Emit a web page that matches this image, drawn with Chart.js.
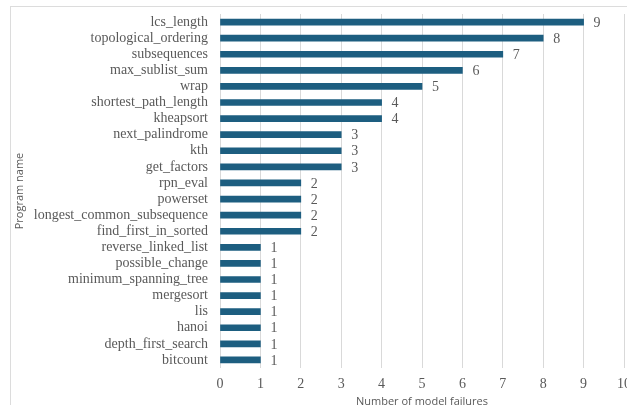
<!DOCTYPE html>
<html lang="en">
<head>
<meta charset="UTF-8">
<title>Model failures per program</title>
<script src="https://cdn.jsdelivr.net/npm/chart.js"></script>
<style>
  html, body { margin: 0; padding: 0; background: #fff; overflow: hidden; }
  #frame { position: absolute; left: 10px; top: 6px; width: 700px; height: 500px; border: 1px solid #dcdcdc; }
  #wrap { position: absolute; left: 0; top: 0; width: 640px; height: 412px; }
</style>
</head>
<body>
<div id="frame"></div>
<div id="wrap"><canvas id="chart"></canvas></div>
<script>
const programs = [
  "lcs_length", "topological_ordering", "subsequences", "max_sublist_sum", "wrap",
  "shortest_path_length", "kheapsort", "next_palindrome", "kth", "get_factors",
  "rpn_eval", "powerset", "longest_common_subsequence", "find_first_in_sorted",
  "reverse_linked_list", "possible_change", "minimum_spanning_tree", "mergesort",
  "lis", "hanoi", "depth_first_search", "bitcount"
];
const failures = [9, 8, 7, 6, 5, 4, 4, 3, 3, 3, 2, 2, 2, 2, 1, 1, 1, 1, 1, 1, 1, 1];

const textColor = "#595959";
const serif = "'Liberation Serif', 'Times New Roman', serif";

// draws the value next to each bar
const valueLabels = {
  id: "valueLabels",
  afterDatasetsDraw(chart) {
    const ctx = chart.ctx;
    const meta = chart.getDatasetMeta(0);
    ctx.save();
    ctx.font = "14px " + serif;
    ctx.fillStyle = textColor;
    ctx.textAlign = "left";
    ctx.textBaseline = "middle";
    meta.data.forEach((bar, i) => {
      ctx.fillText(failures[i], bar.x + 10, bar.y + 1);
    });
    ctx.restore();
  }
};

new Chart(document.getElementById("chart"), {
  type: "bar",
  data: {
    labels: programs,
    datasets: [{
      data: failures,
      backgroundColor: "#1d5e80",
      barThickness: 6
    }]
  },
  options: {
    indexAxis: "y",
    responsive: true,
    maintainAspectRatio: false,
    animation: false,
    layout: { padding: { top: 14, right: 16, bottom: 0, left: 0 } },
    plugins: { legend: { display: false }, tooltip: { enabled: false } },
    scales: {
      x: {
        min: 0, max: 10,
        ticks: { stepSize: 1, color: textColor, font: { family: serif, size: 14 }, padding: 8 },
        grid: { color: "#d9d9d9", drawTicks: false },
        border: { display: false },
        title: {
          display: true, text: "Number of model failures", color: textColor,
          font: { family: "'Open Sans', sans-serif", size: 11 }, padding: { top: 2, bottom: 4 }
        },
        afterFit(scale) { scale.height = 412 - 368; }
      },
      y: {
        ticks: { color: textColor, font: { family: serif, size: 14 }, padding: 12, autoSkip: false },
        grid: { display: false, drawTicks: false },
        border: { display: false },
        title: {
          display: true, text: "Program name", color: textColor,
          font: { family: "'Open Sans', sans-serif", size: 11 }, padding: { top: 13, bottom: 0 }
        },
        afterFit(scale) {
          scale.width = 220;
          scale.paddingTop = 0;
          scale.paddingBottom = 0;
        }
      }
    }
  },
  plugins: [valueLabels]
});
</script>
</body>
</html>
